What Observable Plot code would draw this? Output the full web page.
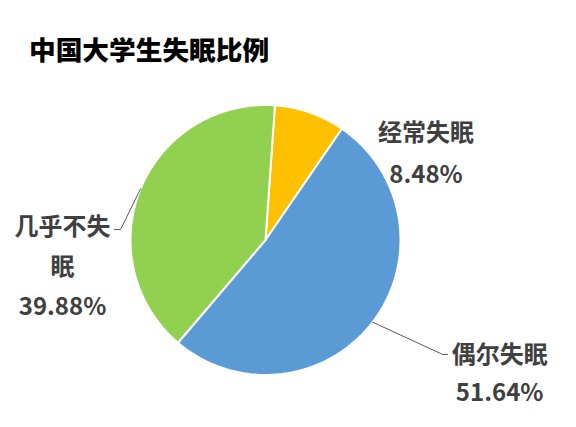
<!DOCTYPE html>
<html>
<head>
<meta charset="utf-8">
<script src="https://cdn.jsdelivr.net/npm/d3@7"></script>
<script src="https://cdn.jsdelivr.net/npm/@observablehq/plot@0.6"></script>
<style>
  html, body { margin: 0; padding: 0; background: #fff; }
  #wrap { width: 576px; height: 427px; overflow: hidden; }
  #title {
    box-sizing: border-box; height: 70px; padding: 36px 0 0 29px;
    font-family: "Noto Sans CJK SC", "Noto Sans", sans-serif;
    font-weight: 900; font-size: 26.7px; line-height: 26px; color: #000;
  }
  svg text { font-family: "Noto Sans CJK SC", "Noto Sans", sans-serif; }
</style>
</head>
<body>
<div id="wrap">
  <div id="title">中国大学生失眠比例</div>
  <div id="chart"></div>
</div>
<script>
// ---- data ----
const categories = ["经常失眠", "偶尔失眠", "几乎不失眠"];
const percents = [8.48, 51.64, 39.88];
const labelTexts = ["经常失眠\n8.48%", "偶尔失眠\n51.64%", "几乎不失\n眠\n39.88%"];
const colors = ["#FFC000", "#5B9BD5", "#92D050"];

// ---- layout (style) ----
const R = 135;            // pie radius in px
const CX = 265;           // pie centre x in px
const CY = 169.5;         // pie centre y in px (within svg)
const SVG_H = 357;
const firstSliceAngle = 4; // degrees, clockwise from top
const labelLayout = [
  {dx: 116, dy: 36, lineHeight: 1.76, leader: null},
  {dx: 127, dy: 48, lineHeight: 1.58, leader: [[70, 32.3], [75, 32.3]]},
  {dx: -78, dy: 73, lineHeight: 1.67, leader: [[-20, 40.6], [-26, 40.6]]}
];

// ---- geometry derived from data ----
const total = d3.sum(percents);
let a = firstSliceAngle * Math.PI / 180;
const slices = categories.map((name, i) => {
  const a0 = a, a1 = a + percents[i] / total * 2 * Math.PI;
  a = a1;
  return {name, a0, a1, mid: (a0 + a1) / 2};
});
const slicePts = [];
for (const s of slices) {
  const n = Math.max(2, Math.ceil((s.a1 - s.a0) * 180 / Math.PI));
  slicePts.push({name: s.name, x: 0, y: 0});
  for (let k = 0; k <= n; k++) {
    const t = s.a0 + (s.a1 - s.a0) * k / n;
    slicePts.push({name: s.name, x: Math.sin(t), y: Math.cos(t)});
  }
  slicePts.push({name: s.name, x: 0, y: 0});
}
const anchors = slices.map((s, i) => ({name: s.name, text: labelTexts[i], x: Math.sin(s.mid), y: Math.cos(s.mid)}));
const leaderPts = [];
anchors.forEach((an, i) => {
  const L = labelLayout[i].leader;
  if (!L) return;
  leaderPts.push({name: an.name, x: an.x, y: an.y});
  for (const [ox, oy] of L) leaderPts.push({name: an.name, x: an.x + ox / R, y: an.y - oy / R});
});

const textMarks = anchors.map((an, i) => Plot.text([an], {
  x: "x", y: "y", text: "text",
  dx: labelLayout[i].dx, dy: labelLayout[i].dy,
  lineHeight: labelLayout[i].lineHeight,
  fontSize: 24, fontWeight: "bold", fill: "#404040",
  textAnchor: "middle", lineAnchor: "middle",
  fontFamily: "Noto Sans CJK SC"
}));

const chart = Plot.plot({
  width: 576, height: SVG_H, margin: 0,
  style: {background: "#fff", overflow: "visible"},
  x: {domain: [-1, 1], range: [CX - R, CX + R], axis: null},
  y: {domain: [-1, 1], range: [CY + R, CY - R], axis: null},
  color: {domain: categories, range: colors},
  marks: [
    Plot.line(slicePts, {x: "x", y: "y", z: "name", fill: "name", stroke: "white", strokeWidth: 2, strokeLinejoin: "round"}),
    Plot.line(leaderPts, {x: "x", y: "y", z: "name", stroke: "#595959", strokeWidth: 1}),
    ...textMarks
  ]
});
document.getElementById("chart").appendChild(chart);
</script>
</body>
</html>
